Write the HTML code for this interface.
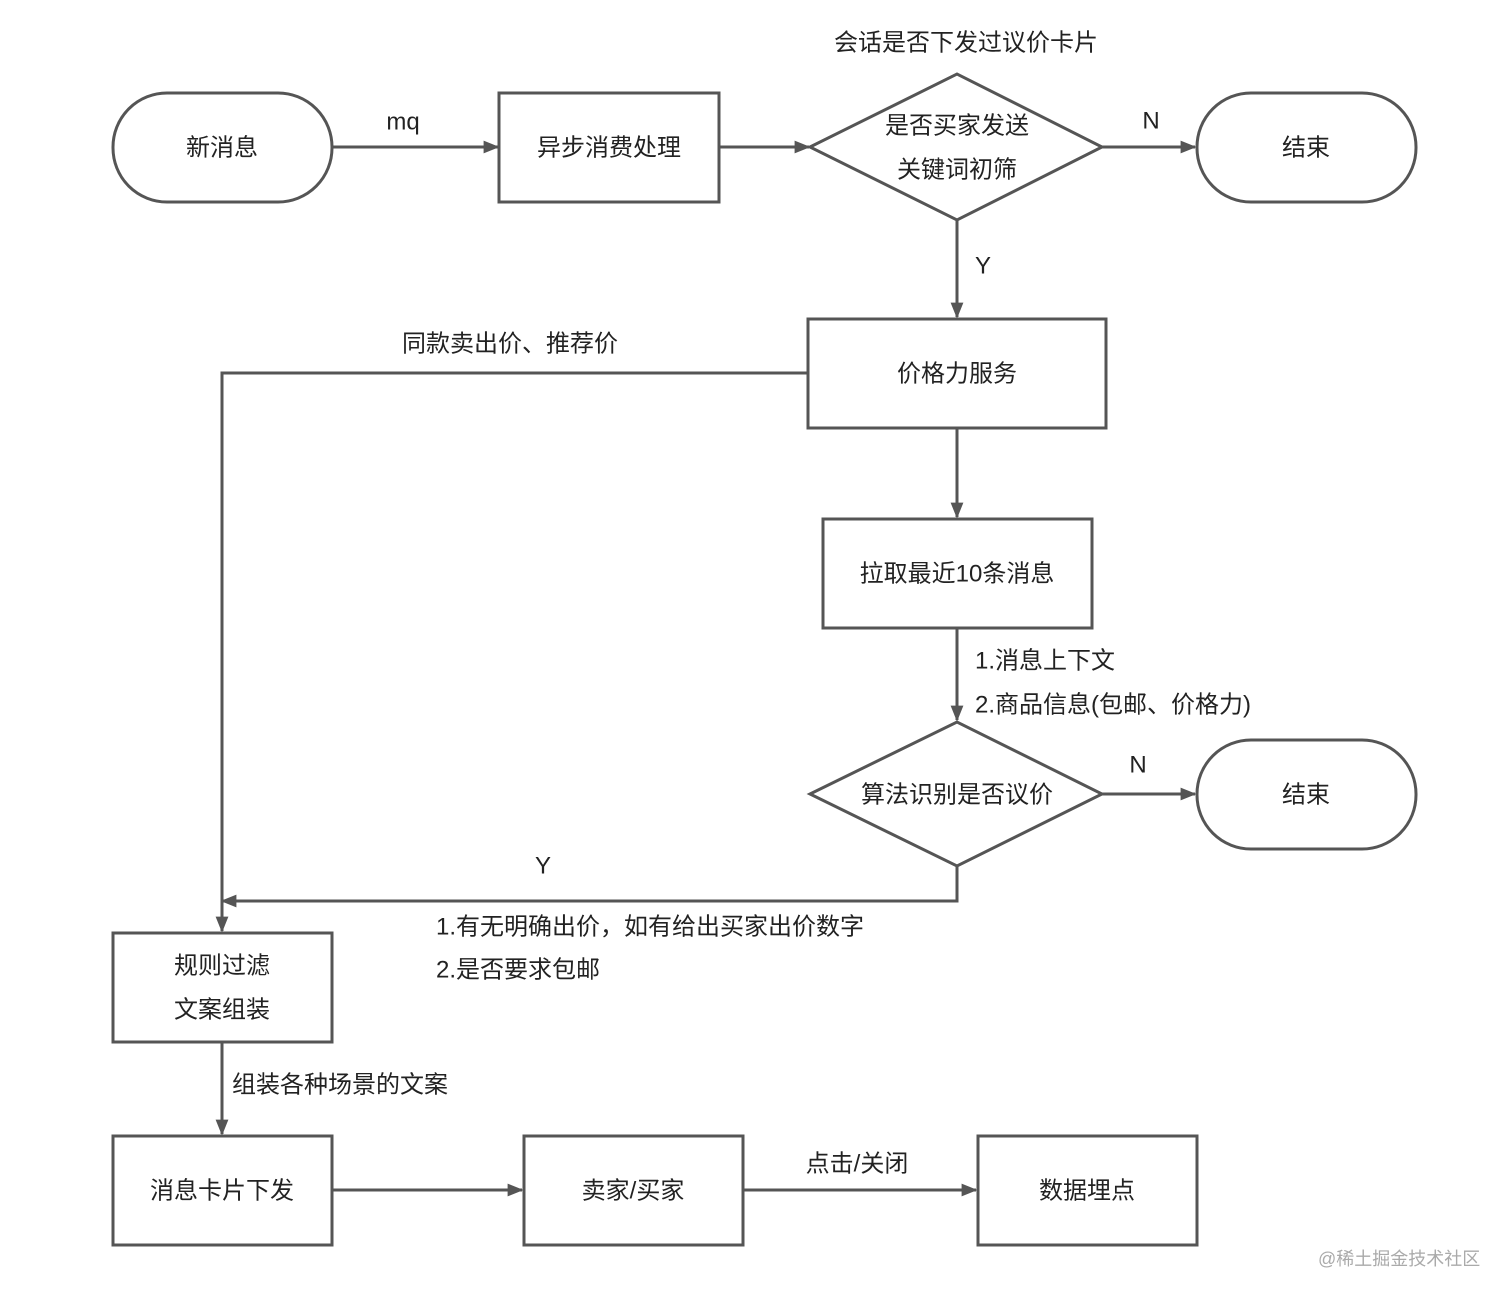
<!DOCTYPE html>
<html><head><meta charset="utf-8"><style>
html,body{margin:0;padding:0;background:#fff;}
svg{display:block;}
text{font-family:"Liberation Sans","Noto Sans CJK SC",sans-serif;font-size:24px;fill:#222;}
</style></head><body>
<svg width="1512" height="1302" viewBox="0 0 1512 1302" xmlns="http://www.w3.org/2000/svg">
<defs><marker id="a" markerWidth="10" markerHeight="10" refX="9" refY="5" orient="auto" markerUnits="userSpaceOnUse" viewBox="0 0 10 10"><path d="M0,0 L10,5 L0,10 z" fill="#555"/></marker>
<marker id="b" viewBox="0 0 10 10" refX="9" refY="5" markerWidth="16" markerHeight="16" orient="auto" markerUnits="userSpaceOnUse"><path d="M0,1 L10,5 L0,9 z" fill="#555"/></marker></defs>
<g fill="#fff" stroke="#555" stroke-width="3">
<rect x="113" y="93" width="219" height="109" rx="54"/>
<rect x="499" y="93" width="220" height="109"/>
<polygon points="810,147 957,74 1102,147 957,220"/>
<rect x="1197" y="93" width="219" height="109" rx="54"/>
<rect x="808" y="319" width="298" height="109"/>
<rect x="823" y="519" width="269" height="109"/>
<polygon points="810,794 957,722 1102,794 957,866"/>
<rect x="1197" y="740" width="219" height="109" rx="54"/>
<rect x="113" y="933" width="219" height="109"/>
<rect x="113" y="1136" width="219" height="109"/>
<rect x="524" y="1136" width="219" height="109"/>
<rect x="978" y="1136" width="219" height="109"/>
</g>
<g fill="none" stroke="#555" stroke-width="3" marker-end="url(#b)">
<path d="M332,147 L498,147"/>
<path d="M719,147 L809,147"/>
<path d="M1102,147 L1195,147"/>
<path d="M957,220 L957,317"/>
<path d="M808,373 L222,373 L222,931"/>
<path d="M957,428 L957,517"/>
<path d="M957,628 L957,720"/>
<path d="M1102,794 L1195,794"/>
<path d="M957,866 L957,901 L222,901"/>
<path d="M222,1042 L222,1134"/>
<path d="M332,1190 L522,1190"/>
<path d="M743,1190 L976,1190"/>
</g>
<g text-anchor="middle" dominant-baseline="central">
<text x="222" y="148">新消息</text>
<text x="403" y="122">mq</text>
<text x="609" y="148">异步消费处理</text>
<text x="966" y="43">会话是否下发过议价卡片</text>
<text x="957" y="126">是否买家发送</text>
<text x="957" y="170">关键词初筛</text>
<text x="1151" y="121">N</text>
<text x="1306" y="148">结束</text>
<text x="983" y="266">Y</text>
<text x="957" y="374">价格力服务</text>
<text x="510" y="344">同款卖出价、推荐价</text>
<text x="957" y="574">拉取最近10条消息</text>
<text x="957" y="795">算法识别是否议价</text>
<text x="1138" y="765">N</text>
<text x="1306" y="795">结束</text>
<text x="543" y="866">Y</text>
<text x="222" y="966">规则过滤</text>
<text x="222" y="1010">文案组装</text>
<text x="222" y="1191">消息卡片下发</text>
<text x="633" y="1191">卖家/买家</text>
<text x="857" y="1164">点击/关闭</text>
<text x="1087" y="1191">数据埋点</text>
</g>
<g dominant-baseline="central">
<text x="975" y="661">1.消息上下文</text>
<text x="975" y="705">2.商品信息(包邮、价格力)</text>
<text x="436" y="927">1.有无明确出价，如有给出买家出价数字</text>
<text x="436" y="970">2.是否要求包邮</text>
<text x="232" y="1085">组装各种场景的文案</text>
<text x="1318" y="1259" style="font-size:18px;fill:#aaa">@稀土掘金技术社区</text>
</g>
</svg>
</body></html>
